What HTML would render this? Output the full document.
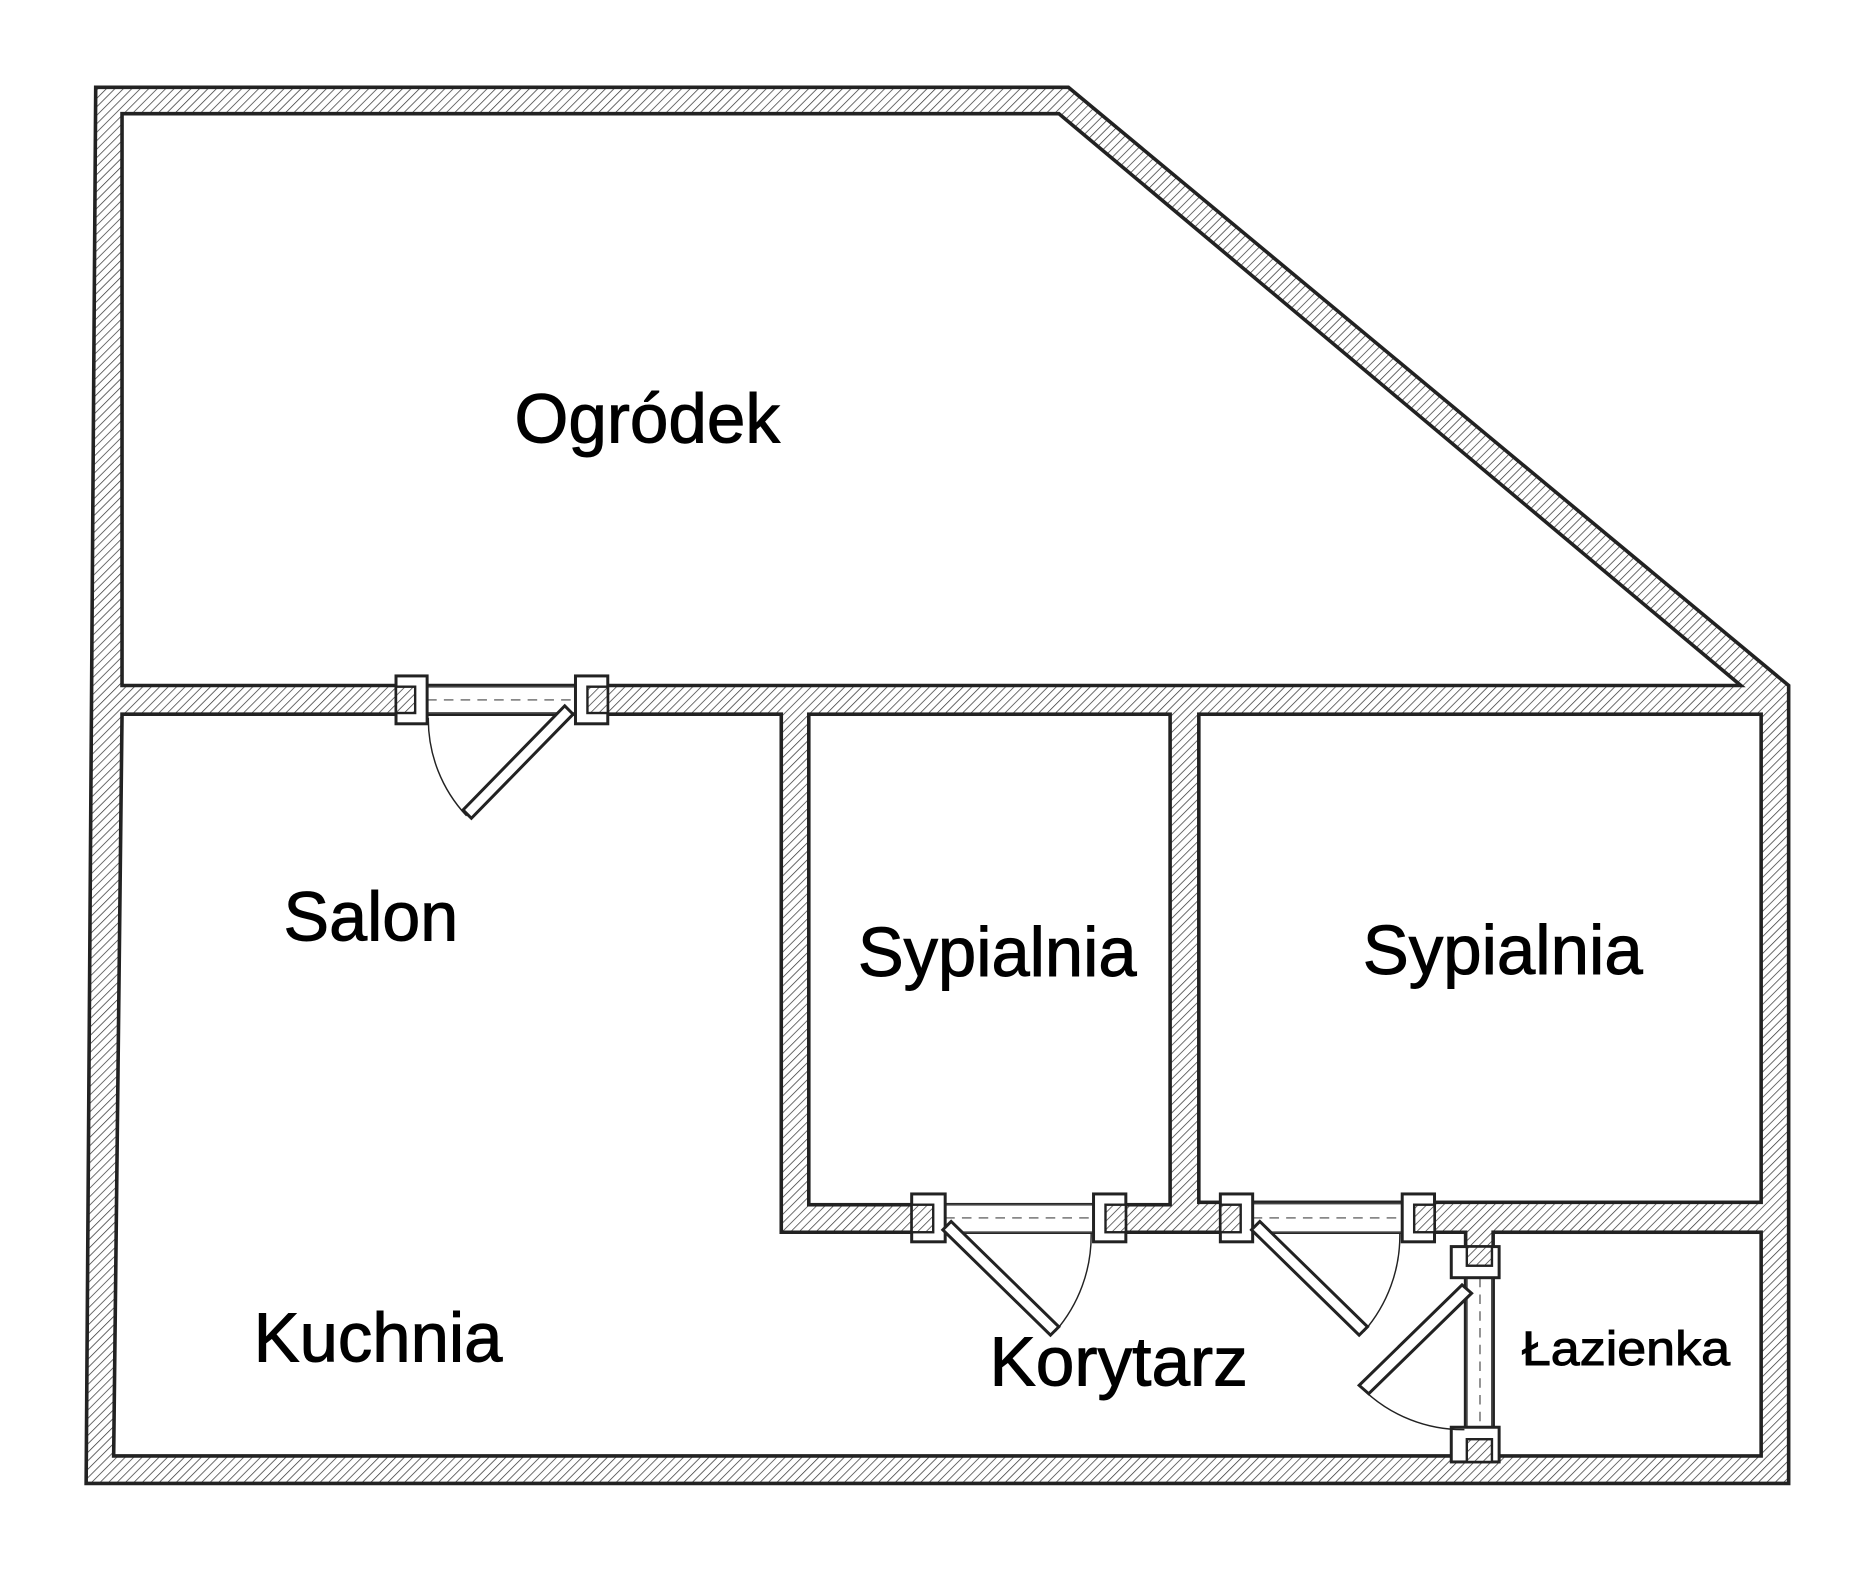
<!DOCTYPE html>
<html><head><meta charset="utf-8"><style>html,body{margin:0;padding:0;background:#fff}svg{display:block}</style></head>
<body>
<svg width="1876" height="1572" viewBox="0 0 1568 1314" preserveAspectRatio="none" xmlns="http://www.w3.org/2000/svg">
<defs>
<pattern id="h" patternUnits="userSpaceOnUse" width="5" height="5" patternTransform="rotate(45)">
<rect width="5" height="5" fill="#fff"/><line x1="0" y1="0" x2="0" y2="5" stroke="#333" stroke-width="1.2"/>
</pattern>
</defs>
<polygon points="80,73 893,73 1495,573 1495,1240 72,1240" fill="url(#h)" stroke="#222" stroke-width="3"/>
<g fill="#fff" stroke="#222" stroke-width="3">
<polygon points="102,95 885,95 1455,573 102,573"/>
<polygon points="102,597 653,597 653,1030 1225,1030 1225,1217 95,1217"/>
<rect x="676" y="597" width="302" height="410"/>
<rect x="1002" y="597" width="470" height="408"/>
<rect x="1248" y="1030" width="224" height="187"/>
</g>
<g fill="#fff" stroke="#444" stroke-width="1.5">
<rect x="357" y="574" width="124" height="22"/>
<rect x="790" y="1007" width="124" height="23"/>
<rect x="1047" y="1006" width="125" height="24"/>
<rect x="1226" y="1068" width="21" height="125"/>
</g>
<g stroke="#888" stroke-width="1.5" stroke-dasharray="8,6" fill="none">
<line x1="357" y1="585" x2="481" y2="585"/>
<line x1="790" y1="1018" x2="914" y2="1018"/>
<line x1="1047" y1="1018" x2="1172" y2="1018"/>
<line x1="1237" y1="1068" x2="1237" y2="1193"/>
</g>
<g fill="#fff" stroke="#222" stroke-width="2.5">
<rect x="331" y="565" width="26" height="40"/>
<rect x="481" y="565" width="27" height="40"/>
<rect x="762" y="998" width="28" height="40"/>
<rect x="914" y="998" width="27" height="40"/>
<rect x="1020" y="998" width="27" height="40"/>
<rect x="1172" y="998" width="27" height="40"/>
<rect x="1213" y="1042" width="40" height="26"/>
<rect x="1213" y="1193" width="40" height="29"/>
</g>
<g fill="url(#h)" stroke="#222" stroke-width="2">
<rect x="331" y="574" width="16" height="22"/>
<rect x="491" y="574" width="17" height="22"/>
<rect x="762" y="1007" width="18" height="23"/>
<rect x="924" y="1007" width="17" height="23"/>
<rect x="1020" y="1007" width="17" height="23"/>
<rect x="1182" y="1007" width="17" height="23"/>
<rect x="1226" y="1042" width="21" height="16"/>
<rect x="1226" y="1203" width="21" height="19"/>
</g>
<g fill="#fff" stroke="#222" stroke-width="2.5">
<polygon points="472,590 479,597 394,684 387,677"/>
<polygon points="795,1021 788,1028 878,1116 885,1109"/>
<polygon points="1053,1021 1046,1028 1136,1116 1143,1109"/>
<polygon points="1222,1074 1230,1081 1144,1165 1136,1158"/>
</g>
<g fill="none" stroke="#222" stroke-width="1.2">
<path d="M358,600 A118,118 0 0 0 390,682"/>
<path d="M882,1113 A122,122 0 0 0 912,1031"/>
<path d="M1140,1113 A122,122 0 0 0 1170,1031"/>
<path d="M1140,1162 A120,120 0 0 0 1224,1195"/>
</g>
<g font-family="Liberation Sans, sans-serif" fill="#000" stroke="#000" stroke-width="0.8" lengthAdjust="spacingAndGlyphs">
<text x="430" y="370" font-size="58" textLength="222" lengthAdjust="spacingAndGlyphs">Ogródek</text>
<text x="237" y="786" font-size="58" textLength="146" lengthAdjust="spacingAndGlyphs">Salon</text>
<text x="717" y="816" font-size="58" textLength="233" lengthAdjust="spacingAndGlyphs">Sypialnia</text>
<text x="1139" y="814" font-size="58" textLength="234" lengthAdjust="spacingAndGlyphs">Sypialnia</text>
<text x="212" y="1138" font-size="58" textLength="208" lengthAdjust="spacingAndGlyphs">Kuchnia</text>
<text x="827" y="1158" font-size="58" textLength="216" lengthAdjust="spacingAndGlyphs">Korytarz</text>
<text x="1272" y="1141" font-size="40" textLength="174" lengthAdjust="spacingAndGlyphs">Łazienka</text>
</g>
</svg>
</body></html>
